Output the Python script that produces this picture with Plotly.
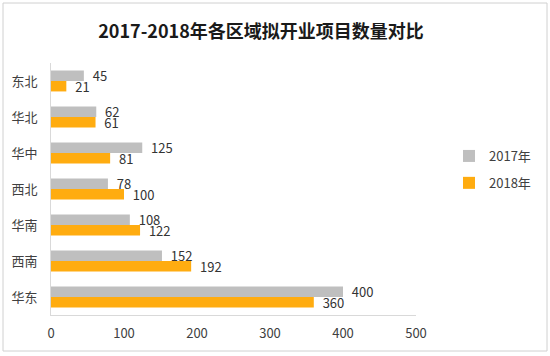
import plotly.graph_objects as go

categories = ["东北", "华北", "华中", "西北", "华南", "西南", "华东"]
values_2017 = [45, 62, 125, 78, 108, 152, 400]
values_2018 = [21, 61, 81, 100, 122, 192, 360]
series_names = ["2017年", "2018年"]
x_ticks = [0, 100, 200, 300, 400, 500]

FONT = "Noto Sans CJK SC"
GRAY = "#BFBFBF"
ORANGE = "#FFAC10"

fig = go.Figure()
for name, vals, col in [(series_names[0], values_2017, GRAY), (series_names[1], values_2018, ORANGE)]:
    fig.add_trace(go.Bar(
        y=categories, x=vals, name=name, orientation="h",
        marker=dict(color=col, line=dict(width=0)),
        text=["\u00a0\u00a0" + str(v) for v in vals],
        textposition="outside", cliponaxis=False, constraintext="none",
        textfont=dict(family=FONT, size=13, color="#333333"),
        legendgroup=name,
    ))

L, R, T, B = 51, 416, 63, 315
W, H = 550, 356
pw, ph = R - L, B - T

def px(x):
    return (x - L) / pw

def py(y):
    return (B - y) / ph

fig.update_layout(
    width=W, height=H,
    margin=dict(l=L, r=W - R, t=T, b=H - B, pad=0, autoexpand=False),
    paper_bgcolor="white", plot_bgcolor="white",
    barmode="group", bargap=0.42, bargroupgap=0,
    uniformtext=dict(mode=False),
    font=dict(family=FONT, size=13, color="#404040"),
    title=dict(text="<b>2017-2018年各区域拟开业项目数量对比</b>",
               x=261 / W, xanchor="center", y=1 - 32 / H, yanchor="middle",
               font=dict(family=FONT, size=18, color="#1a1a1a")),
    xaxis=dict(range=[0, 500], tickvals=x_ticks, showgrid=False, zeroline=False,
               showline=True, linecolor="#D9D9D9", linewidth=1, automargin=False,
               tickfont=dict(family=FONT, size=13, color="#404040"),
               ticklabelstandoff=6, fixedrange=True),
    yaxis=dict(autorange="reversed", showgrid=False, zeroline=False,
               showline=True, linecolor="#D9D9D9", linewidth=1, automargin=False,
               tickfont=dict(family=FONT, size=13, color="#404040"),
               ticklabelstandoff=10, fixedrange=True),
    legend=dict(x=px(449), y=py(141), xanchor="left", yanchor="top",
                font=dict(family=FONT, size=13, color="#404040"),
                tracegroupgap=7, itemwidth=30, bgcolor="rgba(0,0,0,0)"),
    showlegend=True,
    shapes=[dict(type="rect", xref="paper", yref="paper",
                 x0=px(3), x1=px(547), y0=py(351), y1=py(3),
                 line=dict(color="#D0D0D0", width=1), fillcolor="rgba(0,0,0,0)",
                 layer="above")],
)

fig.write_html("out.html", config={"displayModeBar": False, "staticPlot": True},
               post_script="document.body.style.margin='0';document.body.style.overflow='hidden';")
